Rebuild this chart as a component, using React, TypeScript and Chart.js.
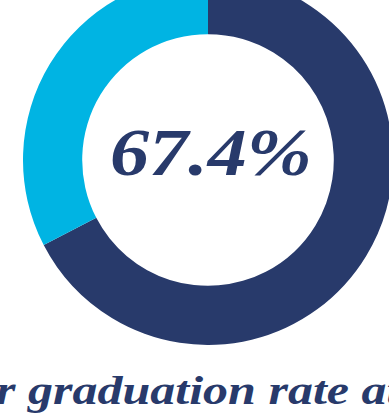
import React, { useEffect, useRef } from "react";
import { Chart, registerables } from "chart.js";

Chart.register(...registerables);

const segmentLabels = ["Graduated", "Not graduated"];
const segmentValues = [67.4, 32.6];
const segmentColors = ["#283A6B", "#00B4E3"];
const centerLabel = "67.4%";
const captionText = "r graduation rate at";

const NAVY = "#283A6B";
const SERIF = '"Liberation Serif", "DejaVu Serif", serif';

const centerTextPlugin = {
  id: "centerText",
  afterDraw(chart: any) {
    const meta = chart.getDatasetMeta(0);
    if (!meta || !meta.data.length) return;
    const arc = meta.data[0];
    const ctx = chart.ctx;
    ctx.save();
    ctx.fillStyle = NAVY;
    ctx.font = `italic bold 68px ${SERIF}`;
    ctx.textAlign = "center";
    ctx.textBaseline = "alphabetic";
    const w = ctx.measureText(centerLabel).width;
    const sx = 202 / w;
    ctx.translate(arc.x + 3, arc.y + 15);
    ctx.scale(sx, 1);
    ctx.fillText(centerLabel, 0, 0);
    ctx.restore();
  },
};

export default function App() {
  const canvasRef = useRef<HTMLCanvasElement | null>(null);

  useEffect(() => {
    if (!canvasRef.current) return;
    const chart = new Chart(canvasRef.current, {
      type: "doughnut",
      data: {
        labels: segmentLabels,
        datasets: [
          {
            data: segmentValues,
            backgroundColor: segmentColors,
            borderWidth: 0,
            hoverOffset: 0,
          },
        ],
      },
      options: {
        responsive: false,
        animation: false,
        cutout: "68%",
        layout: { padding: 0 },
        plugins: {
          legend: { display: false },
          tooltip: { enabled: false },
          title: { display: false },
        },
      },
      plugins: [centerTextPlugin],
    });
    return () => chart.destroy();
  }, []);

  return (
    <div
      style={{
        position: "fixed",
        left: 0,
        top: 0,
        width: 389,
        height: 415,
        overflow: "hidden",
        background: "#ffffff",
      }}
    >
      <canvas
        ref={canvasRef}
        width={370}
        height={370}
        style={{ position: "absolute", left: 23, top: -25, width: 370, height: 370 }}
      />
      <div
        style={{
          position: "absolute",
          left: -4,
          top: 366,
          whiteSpace: "nowrap",
          fontFamily: SERIF,
          fontStyle: "italic",
          fontWeight: "bold",
          fontSize: 41,
          lineHeight: "48px",
          color: NAVY,
          transform: "scaleX(1.22)",
          transformOrigin: "left top",
        }}
      >
        {captionText}
      </div>
    </div>
  );
}
